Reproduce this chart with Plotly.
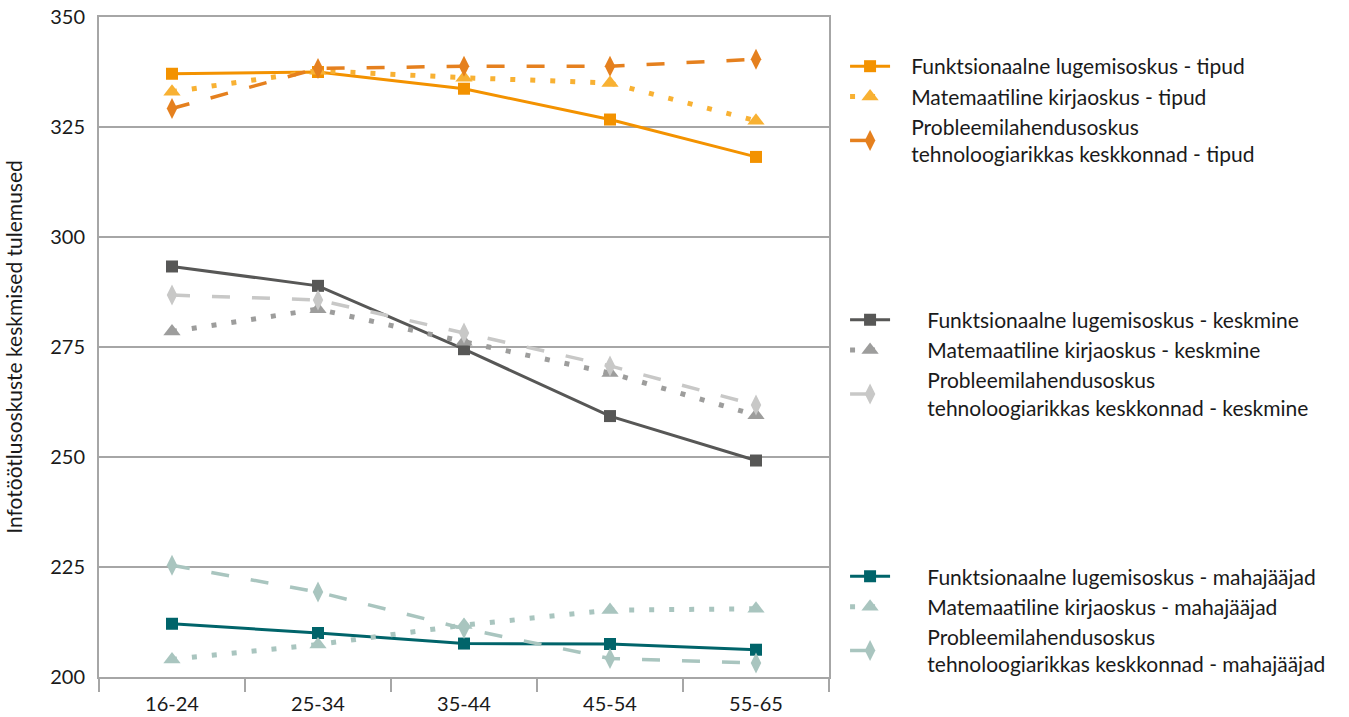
import plotly.graph_objects as go

categories = ["16-24", "25-34", "35-44", "45-54", "55-65"]

# Tipud (top performers)
funkts_tipud = [337.1, 337.5, 333.7, 326.7, 318.2]
matem_tipud = [333.0, 337.8, 336.2, 335.0, 326.4]
probl_tipud = [329.2, 338.3, 338.8, 338.8, 340.4]

# Keskmine (average)
funkts_kesk = [293.3, 288.9, 274.5, 259.3, 249.2]
matem_kesk = [278.5, 283.6, 276.2, 269.1, 259.5]
probl_kesk = [286.8, 285.7, 278.2, 270.7, 261.8]

# Mahajääjad (low performers)
funkts_maha = [212.1, 210.0, 207.6, 207.5, 206.2]
matem_maha = [204.0, 207.4, 211.8, 215.2, 215.5]
probl_maha = [225.4, 219.3, 211.0, 204.2, 203.2]

y_ticks = [200, 225, 250, 275, 300, 325, 350]

FONT = "Lato"
NB = "\u00a0"


def lbl(text, pad):
    return "<br>".join(NB * pad + part for part in text.split("<br>"))


series = [
    ("Funktsionaalne lugemisoskus - tipud", funkts_tipud, "#F39200", "solid", 3, "square", 12, "legend", 3),
    ("Matemaatiline kirjaoskus - tipud", matem_tipud, "#F8B133", "5px,15px", 5, "triangle-up", 15, "legend", 3),
    ("Probleemilahendusoskus<br>tehnoloogiarikkas keskkonnad - tipud", probl_tipud, "#E5801E", "18px,22px", 3.5, "diamond-tall", 15, "legend", 3),
    ("Funktsionaalne lugemisoskus - keskmine", funkts_kesk, "#575756", "solid", 3, "square", 12, "legend2", 6),
    ("Matemaatiline kirjaoskus - keskmine", matem_kesk, "#9D9D9C", "5px,15px", 5, "triangle-up", 15, "legend2", 6),
    ("Probleemilahendusoskus<br>tehnoloogiarikkas keskkonnad - keskmine", probl_kesk, "#C8C8C7", "18px,22px", 3.5, "diamond-tall", 15, "legend2", 6),
    ("Funktsionaalne lugemisoskus - mahajääjad", funkts_maha, "#00646A", "solid", 3, "square", 12, "legend3", 6),
    ("Matemaatiline kirjaoskus - mahajääjad", matem_maha, "#A9C5BF", "5px,15px", 5, "triangle-up", 15, "legend3", 6),
    ("Probleemilahendusoskus<br>tehnoloogiarikkas keskkonnad - mahajääjad", probl_maha, "#A9C5BF", "18px,22px", 3.5, "diamond-tall", 15, "legend3", 6),
]

fig = go.Figure()
for name, vals, color, dash, lw, sym, ms, leg, pad in series:
    fig.add_trace(go.Scatter(
        x=categories, y=vals, name=lbl(name, pad), mode="lines+markers",
        line=dict(color=color, width=lw, dash=dash),
        marker=dict(symbol=sym, size=ms, color=color, line=dict(width=0)),
        legend=leg,
    ))

legend_common = dict(
    font=dict(family=FONT, size=21, color="#1a1a1a"),
    bgcolor="rgba(0,0,0,0)", borderwidth=0,
    xanchor="left", yanchor="top", tracegroupgap=0, itemwidth=40,
)

fig.update_layout(
    width=1349, height=717,
    margin=dict(l=99, r=520, t=17, b=40, autoexpand=False),
    plot_bgcolor="white", paper_bgcolor="white",
    font=dict(family=FONT, size=20, color="#1a1a1a"),
    legend=dict(x=1.022, y=0.956, **legend_common),
    legend2=dict(x=1.022, y=0.572, **legend_common),
    legend3=dict(x=1.022, y=0.183, **legend_common),
    xaxis=dict(
        type="category", showline=True, linecolor="#A6A6A6", linewidth=2, mirror=True,
        ticks="outside", tickson="boundaries", ticklen=13, tickcolor="#A6A6A6", tickwidth=2,
        showgrid=False, tickfont=dict(family=FONT, size=20, color="#1a1a1a"),
        ticklabelstandoff=8,
        range=[-0.5, 4.5], automargin=False,
    ),
    yaxis=dict(
        range=[200, 350], tickvals=y_ticks, showline=True, linecolor="#A6A6A6", linewidth=2, mirror=True,
        showgrid=True, gridcolor="#A6A6A6", gridwidth=1.5, zeroline=False,
        ticks="", ticklabelstandoff=8, tickfont=dict(family=FONT, size=20, color="#1a1a1a"),
        automargin=False,
        title=dict(text="Infotöötlusoskuste keskmised tulemused", font=dict(family=FONT, size=21, color="#1a1a1a"), standoff=22),
    ),
)

fig.write_html(
    "out.html",
    config={"displayModeBar": False},
    post_script="document.body.style.margin='0';document.body.style.overflow='hidden';",
)
